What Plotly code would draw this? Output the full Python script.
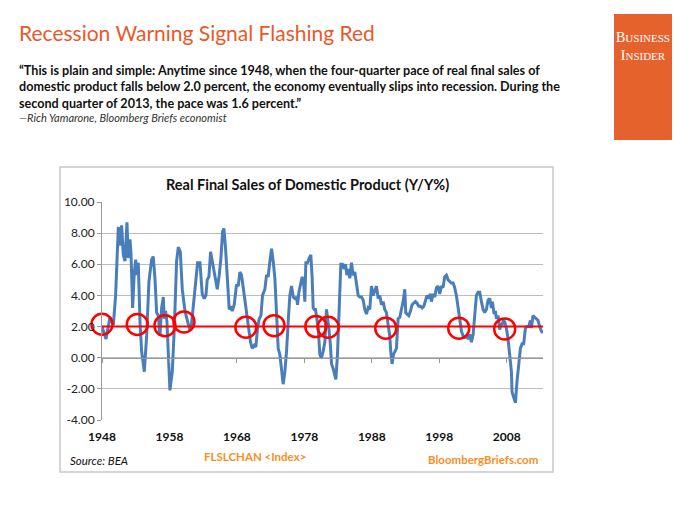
import plotly.graph_objects as go

# ---------------- data ----------------
years = [
    1948.00, 1948.59, 1949.18, 1949.68, 1950.02, 1950.42, 1950.67, 1950.91, 1951.16, 1951.41,
    1951.70, 1951.90, 1952.15, 1952.30, 1952.54, 1952.79, 1952.99, 1953.19, 1953.38, 1953.63,
    1953.88, 1954.27, 1954.62, 1954.96, 1955.36, 1955.60, 1955.85, 1956.10, 1956.35, 1956.59,
    1956.84, 1957.09, 1957.23, 1957.43, 1957.63, 1957.83, 1958.07, 1958.42, 1958.72, 1959.06,
    1959.31, 1959.61, 1959.90, 1960.30, 1960.69, 1960.94, 1961.19, 1961.38, 1961.78, 1962.17,
    1962.52, 1962.86, 1963.16, 1963.41, 1963.60, 1963.85, 1964.10, 1964.35, 1964.74, 1965.09,
    1965.38, 1965.63, 1965.88, 1966.07, 1966.32, 1966.62, 1966.86, 1967.11, 1967.31, 1967.60,
    1967.95, 1968.20, 1968.44, 1968.69, 1968.94, 1969.28, 1969.68, 1970.02, 1970.27, 1970.57,
    1970.81, 1971.06, 1971.31, 1971.56, 1971.80, 1972.15, 1972.39, 1972.64, 1972.89, 1973.14,
    1973.38, 1973.63, 1973.88, 1974.12, 1974.37, 1974.62, 1974.86, 1975.11, 1975.36, 1975.60,
    1975.85, 1976.10, 1976.35, 1976.59, 1976.84, 1976.99, 1977.19, 1977.43, 1977.68, 1977.93,
    1978.07, 1978.22, 1978.47, 1978.72, 1978.96, 1979.16, 1979.31, 1979.46, 1979.65, 1979.85,
    1980.05, 1980.30, 1980.54, 1980.79, 1981.04, 1981.28, 1981.43, 1981.63, 1981.83, 1982.03,
    1982.27, 1982.52, 1982.67, 1982.91, 1983.16, 1983.41, 1983.65, 1983.90, 1984.10, 1984.30,
    1984.49, 1984.74, 1984.99, 1985.23, 1985.48, 1985.73, 1985.98, 1986.22, 1986.47, 1986.72,
    1986.96, 1987.21, 1987.45, 1987.70, 1987.95, 1988.19, 1988.44, 1988.69, 1988.94, 1989.18,
    1989.43, 1989.68, 1989.92, 1990.17, 1990.42, 1990.66, 1990.81, 1991.01, 1991.21, 1991.40,
    1991.65, 1991.90, 1992.15, 1992.39, 1992.64, 1992.89, 1993.03, 1993.23, 1993.48, 1993.73,
    1993.97, 1994.22, 1994.47, 1994.71, 1994.96, 1995.21, 1995.45, 1995.70, 1995.95, 1996.19,
    1996.44, 1996.69, 1996.84, 1997.08, 1997.33, 1997.58, 1997.82, 1998.07, 1998.32, 1998.56,
    1998.81, 1999.06, 1999.31, 1999.55, 1999.80, 2000.05, 2000.29, 2000.54, 2000.79, 2001.04,
    2001.29, 2001.53, 2001.78, 2002.03, 2002.28, 2002.52, 2002.77, 2003.02, 2003.26, 2003.51,
    2003.76, 2004.00, 2004.25, 2004.50, 2004.74, 2004.99, 2005.24, 2005.49, 2005.73, 2005.88,
    2006.13, 2006.32, 2006.47, 2006.72, 2006.97, 2007.11, 2007.31, 2007.51, 2007.71, 2007.95,
    2008.20, 2008.45, 2008.70, 2008.79, 2009.04, 2009.29, 2009.53, 2009.78, 2010.03, 2010.28,
    2010.52, 2010.77, 2011.02, 2011.26, 2011.51, 2011.66, 2011.90, 2012.15, 2012.40, 2012.64,
    2012.89, 2013.14, 2013.38,
]
sales_yoy = [
    2.0, 1.2, 2.6, 2.1, 4.0, 8.4, 7.2, 8.5, 6.6, 6.2,
    8.7, 6.4, 7.6, 6.7, 3.2, 5.5, 6.3, 5.3, 6.1, 2.3,
    0.4, -0.9, 1.4, 4.9, 6.3, 6.5, 5.1, 2.9, 2.7, 1.4,
    3.2, 3.9, 2.5, 3.0, 2.3, 0.2, -2.1, -0.9, 1.9, 6.2,
    7.1, 6.8, 4.4, 3.0, 2.3, 1.9, 1.8, 2.6, 4.4, 6.1,
    6.1, 4.1, 3.8, 4.0, 5.0, 5.2, 6.8, 6.2, 5.1, 4.4,
    5.3, 6.4, 8.1, 8.3, 7.0, 4.9, 3.1, 3.3, 3.0, 3.4,
    4.7, 4.6, 5.5, 5.3, 4.5, 3.4, 2.0, 1.0, 0.6, 0.8,
    0.7, 1.9, 2.5, 2.7, 4.0, 4.4, 5.3, 5.2, 6.2, 7.0,
    6.2, 5.1, 2.8, 0.6, 0.2, -0.9, -1.7, -0.9, 0.4, 2.3,
    4.0, 4.6, 3.9, 3.8, 3.9, 3.4, 4.2, 4.7, 5.2, 4.6,
    3.6, 6.1, 6.1, 6.4, 6.6, 5.1, 3.2, 3.1, 3.1, 2.5,
    1.9, 0.2, 0.0, 0.4, 1.0, 3.1, 2.7, 1.9, 1.0, -0.4,
    -0.7, -1.2, -1.4, 0.2, 2.9, 6.0, 6.0, 5.7, 6.0, 5.3,
    5.7, 5.1, 6.1, 5.3, 5.5, 4.6, 4.0, 3.9, 3.9, 3.7,
    3.1, 2.8, 3.2, 3.1, 4.6, 4.0, 4.3, 4.6, 3.8, 4.0,
    3.4, 3.6, 3.1, 2.9, 2.1, 1.4, 0.4, -0.4, 0.2, 0.4,
    0.6, 2.5, 2.6, 3.1, 3.6, 4.4, 2.9, 2.8, 2.7, 3.0,
    3.4, 3.5, 3.6, 3.5, 3.3, 3.3, 3.2, 3.3, 3.6, 4.0,
    3.8, 4.1, 3.6, 4.1, 3.9, 4.5, 4.6, 4.1, 4.6, 4.5,
    5.2, 5.3, 5.0, 4.9, 4.8, 4.8, 4.5, 4.0, 3.2, 2.3,
    1.7, 1.4, 1.3, 1.4, 1.2, 1.5, 1.0, 1.5, 2.7, 4.0,
    4.2, 4.2, 3.6, 3.1, 2.9, 3.1, 3.7, 3.8, 3.2, 3.6,
    2.8, 3.0, 2.5, 2.7, 1.8, 2.2, 2.1, 2.4, 2.3, 1.9,
    1.2, 0.2, -0.9, -2.2, -2.6, -2.9, -1.5, -0.2, 0.6, 0.9,
    0.9, 1.9, 2.0, 2.0, 2.4, 1.9, 2.7, 2.6, 2.5, 2.4,
    2.0, 1.7, 1.6,
]
threshold_years = [1948.0, 2013.38]
threshold_values = [2.0, 2.0]
signal_years = [1948.0, 1953.23, 1957.33, 1960.15, 1969.33, 1973.50, 1979.70, 1981.53, 1990.07, 2000.89, 2007.70]
signal_values = [2.15, 2.13, 2.06, 2.30, 1.96, 2.06, 2.0, 1.96, 1.9, 1.9, 1.85]
x_tick_vals = [1948, 1958, 1968, 1978, 1988, 1998, 2008]
x_tick_text = ["1948", "1958", "1968", "1978", "1988", "1998", "2008"]
y_tick_vals = [10, 8, 6, 4, 2, 0, -2, -4]
y_tick_text = ["10.00", "8.00", "6.00", "4.00", "2.00", "0.00", "-2.00", "-4.00"]

# ---------------- layout geometry (pixels) ----------------
W, H = 700, 525
PL, PR, PT, PB = 102, 543, 202, 420  # plot area


def px(x):
    return (x - PL) / (PR - PL)


def py(y):
    return (PB - y) / (PB - PT)


BLUE = "#4a7ebb"
RED = "#ff0000"
ORANGE = "#e8592a"
GRID = "#bdbdbd"

fig = go.Figure()
fig.add_trace(go.Scatter(x=years, y=sales_yoy, mode="lines",
                         line=dict(color=BLUE, width=3), hoverinfo="skip"))
fig.add_trace(go.Scatter(x=threshold_years, y=threshold_values, mode="lines",
                         line=dict(color=RED, width=2), xaxis="x2", hoverinfo="skip"))
fig.add_trace(go.Scatter(x=signal_years, y=signal_values, mode="markers",
                         cliponaxis=False,
                         marker=dict(symbol="circle-open", size=21, color=RED,
                                     line=dict(width=2.5, color=RED)),
                         hoverinfo="skip"))

xr = [1948.0, 2013.38]
fig.update_layout(
    width=W, height=H,
    margin=dict(l=PL, r=W - PR, t=PT, b=H - PB, pad=0),
    paper_bgcolor="white", plot_bgcolor="white",
    showlegend=False,
    xaxis=dict(range=xr, tickvals=x_tick_vals, ticktext=x_tick_text,
               showgrid=False, zeroline=False, showline=False, ticks="",
               ticklabelstandoff=8,
               tickfont=dict(family="Lato", size=12, color="#111111", weight="bold")),
    xaxis2=dict(range=xr, overlaying="x", anchor="free", position=4 / 14,
                tickvals=x_tick_vals, showticklabels=False, ticks="outside",
                ticklen=4, tickcolor="#999999", showline=True, linecolor="#999999",
                linewidth=1, showgrid=False, zeroline=False, side="bottom"),
    yaxis=dict(range=[-4, 10], tickvals=y_tick_vals, ticktext=y_tick_text,
               showgrid=True, gridcolor=GRID, gridwidth=1, zeroline=False,
               showline=True, linecolor="#999999", linewidth=1,
               ticks="outside", ticklen=4, tickcolor="#999999",
               tickfont=dict(family="Lato", size=12, color="#222222")),
)

# chart box and logo
fig.add_shape(type="rect", xref="paper", yref="paper",
              x0=px(60), x1=px(553), y0=py(472), y1=py(167),
              line=dict(color="#c8c8c8", width=1.5), fillcolor="white", layer="below")
fig.add_shape(type="rect", xref="paper", yref="paper",
              x0=px(614), x1=px(672), y0=py(140), y1=py(14),
              line=dict(width=0), fillcolor="#e6622d", layer="below")


def ann(text, x, y, size, color="#000000", family="Lato", xanchor="left",
        yanchor="middle", weight="normal", align="left"):
    fig.add_annotation(text=text, x=px(x), y=py(y), xref="paper", yref="paper",
                       showarrow=False, xanchor=xanchor, yanchor=yanchor, align=align,
                       font=dict(size=size, color=color, family=family, weight=weight))


ann("Recession Warning Signal Flashing Red", 17, 32, 21, color=ORANGE, family="Lato")
ann("“This is plain and simple: Anytime since 1948, when the four-quarter pace of real final sales of<br>"
    "domestic product falls below 2.0 percent, the economy eventually slips into recession. During the<br>"
    "second quarter of 2013, the pace was 1.6 percent.”",
    17, 87, 12.6, color="#111111", weight="bold")
ann("<i>—Rich Yamarone, Bloomberg Briefs economist</i>", 17, 117, 11, color="#333333")
ann("B<span style='font-size:11px'>USINESS</span><br>I<span style='font-size:11px'>NSIDER</span>",
    643, 46, 14, color="white", family="Liberation Serif", xanchor="center", align="center")

ann("Real Final Sales of Domestic Product (Y/Y%)", 307, 184, 14.5, color="#111111",
    xanchor="center", weight="bold")
ann("<i>Source: BEA</i>", 68, 460, 11.5, color="#111111")
ann("FLSLCHAN &lt;Index&gt;", 255, 456, 11.5, color="#f7901e", xanchor="center", weight="bold")
ann("BloombergBriefs.com", 540, 459, 11.5, color="#f7901e", xanchor="right", weight="bold")

fig.write_html("out.html")
